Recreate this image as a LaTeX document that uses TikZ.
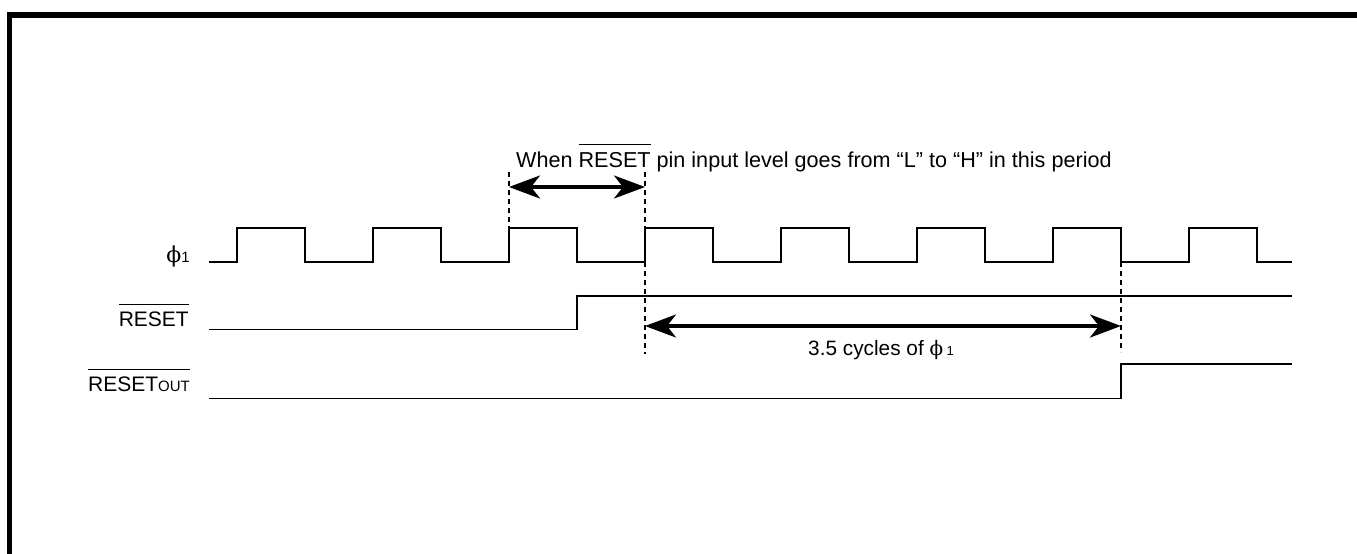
\documentclass[tikz,border=0pt]{standalone}
\usepackage{fontspec}
\setmainfont{Liberation Sans}
\newfontfamily\phifont{DejaVu Serif}
\usetikzlibrary{arrows.meta}
\newcommand\ovl[2][6pt]{\leavevmode\vbox{\hrule height 1pt\kern #1\hbox{#2}}}
\newcommand\fsz[1]{\fontsize{#1}{#1}\selectfont}
\tikzset{
  sig/.style={line width=1.9pt, line join=miter},
  dim/.style={line width=2.1pt, dash pattern=on 5pt off 4pt},
  span/.style={line width=3.4pt, {Stealth[length=31pt,width=23pt,inset=9pt]}-{Stealth[length=31pt,width=23pt,inset=9pt]}},
  lbl/.style={inner sep=0pt, font=\fsz{21}},
}
\begin{document}
\begin{tikzpicture}[x=1pt,y=-1pt]
\useasboundingbox (0,0) rectangle (1357,554);
% frame
\draw[line width=5.5pt] (9.7,554) -- (9.7,15.2) -- (1357,15.2);
% clock phi1
\draw[sig] (209,262) foreach \i in {0,...,7}{ -- ({237+136*\i},262) -- ({237+136*\i},228) -- ({305+136*\i},228) -- ({305+136*\i},262)} -- (1292,262);
% RESET
\draw[sig] (209,329.5) -- (577,329.5) -- (577,296) -- (1292,296);
% RESET OUT
\draw[sig] (209,398.5) -- (1121,398.5) -- (1121,364) -- (1292,364);
% coordinates
\coordinate (d1t) at (509,172);
\coordinate (d1b) at (509,228);
\coordinate (d2t) at (645,172);
\coordinate (d2b) at (645,354);
\coordinate (d3t) at (1121,262);
\coordinate (d3b) at (1121,352);
\coordinate (a1l) at (509,187);
\coordinate (a1r) at (645,187);
\coordinate (a2l) at (645,326);
\coordinate (a2r) at (1121,326);
% dashed
\draw[dim] (d1t) -- (d1b);
\draw[dim] (d2t) -- (d2b);
\draw[dim] (d3t) -- (d3b);
% arrows
\draw[span] (a1l) -- (a1r);
\draw[span] (a2l) -- (a2r);
% texts
\node[lbl, font=\fsz{21.6}, anchor=base west] (note) at (516,167.3) {When \ovl[7pt]{RESET} pin input level goes from “L” to “H” in this period};
\node[lbl, font=\fsz{20.8}, anchor=base west] (cyc) at (808,355) {3.5 cycles of {\phifont\fsz{20}ϕ}\,{\fsz{13}1}};
\node[lbl, anchor=base east] (lphi) at (190,262) {{\phifont\fsz{22}ϕ}{\fsz{15}1}};
\node[lbl, anchor=base east] (lrst) at (189,326) {\ovl{RESET}};
\node[lbl, anchor=base east] (lrsto) at (190,391) {\ovl{RESET{\fsz{15}OUT}}};
\end{tikzpicture}
\end{document}
